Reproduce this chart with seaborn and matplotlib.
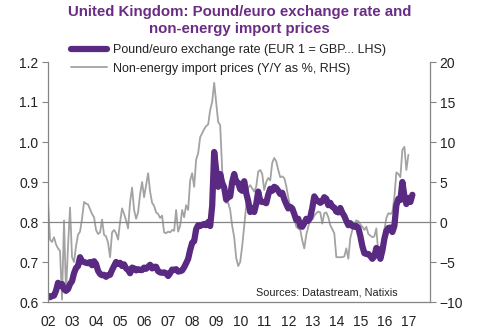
import numpy as np
import pandas as pd
import matplotlib
matplotlib.use("Agg")
import matplotlib.pyplot as plt
import seaborn as sns

# Pound/euro exchange rate, monthly, Jan 2002 - Mar 2017 (EUR 1 = GBP ...)
gbp_2002 = [0.615, 0.612, 0.615, 0.616, 0.628, 0.648, 0.640, 0.645, 0.632, 0.628, 0.632, 0.645]
gbp_2003 = [0.652, 0.672, 0.685, 0.690, 0.712, 0.702, 0.700, 0.698, 0.697, 0.700, 0.692, 0.702]
gbp_2004 = [0.695, 0.678, 0.670, 0.667, 0.668, 0.663, 0.667, 0.668, 0.680, 0.690, 0.700, 0.695]
gbp_2005 = [0.698, 0.690, 0.694, 0.684, 0.680, 0.672, 0.686, 0.684, 0.679, 0.682, 0.680, 0.680]
gbp_2006 = [0.686, 0.683, 0.688, 0.693, 0.684, 0.688, 0.688, 0.677, 0.674, 0.673, 0.674, 0.672]
gbp_2007 = [0.665, 0.672, 0.681, 0.680, 0.682, 0.676, 0.677, 0.679, 0.687, 0.697, 0.708, 0.730]
gbp_2008 = [0.748, 0.752, 0.782, 0.792, 0.790, 0.793, 0.795, 0.792, 0.800, 0.790, 0.840, 0.975]
gbp_2009 = [0.930, 0.888, 0.920, 0.898, 0.886, 0.856, 0.862, 0.864, 0.900, 0.920, 0.900, 0.898]
gbp_2010 = [0.882, 0.878, 0.902, 0.872, 0.852, 0.825, 0.835, 0.825, 0.845, 0.876, 0.852, 0.850]
gbp_2011 = [0.850, 0.847, 0.868, 0.883, 0.878, 0.888, 0.885, 0.878, 0.870, 0.873, 0.857, 0.845]
gbp_2012 = [0.834, 0.838, 0.834, 0.820, 0.805, 0.808, 0.790, 0.788, 0.797, 0.808, 0.803, 0.812]
gbp_2013 = [0.835, 0.864, 0.856, 0.852, 0.848, 0.852, 0.862, 0.858, 0.842, 0.848, 0.838, 0.836]
gbp_2014 = [0.826, 0.824, 0.835, 0.823, 0.815, 0.803, 0.792, 0.797, 0.790, 0.788, 0.790, 0.785]
gbp_2015 = [0.765, 0.740, 0.722, 0.720, 0.720, 0.715, 0.708, 0.714, 0.735, 0.732, 0.708, 0.728]
gbp_2016 = [0.758, 0.778, 0.785, 0.786, 0.775, 0.790, 0.842, 0.858, 0.855, 0.900, 0.866, 0.845]
gbp_2017 = [0.860, 0.850, 0.868]

# Non-energy import prices, Y/Y %, monthly, Jan 2002 - Jan 2017
imp_2002 = [2.8, -2.2, -2.5, -1.9, -2.8, -3.3, -3.6, -9.7, 0.2, -8.9, -3.0, 1.8]
imp_2003 = [-4.4, -5.0, -3.0, -1.6, -1.2, 0.4, 2.5, 2.3, 2.2, 1.6, 1.0, 0.6]
imp_2004 = [-1.0, -1.5, -1.3, 0.3, -1.6, -1.8, -2.6, -4.4, -1.3, -1.0, -1.4, -2.2]
imp_2005 = [0.0, 1.7, 1.0, 0.2, -0.8, 2.5, 4.3, 1.5, 0.4, 1.2, 3.5, 5.0]
imp_2006 = [3.1, 4.6, 6.1, 3.8, 2.4, 2.0, 1.2, 1.0, 0.5, 0.8, -1.3, -1.4]
imp_2007 = [-1.2, -1.3, -1.0, -1.1, 1.5, -1.2, -0.5, 1.5, 0.6, 2.1, 1.5, 5.2]
imp_2008 = [6.1, 4.4, 7.8, 8.6, 10.6, 11.1, 11.6, 12.0, 12.2, 14.0, 15.0, 17.4]
imp_2009 = [15.0, 12.5, 12.1, 6.5, 3.0, 2.4, 2.4, 1.5, -0.5, -1.9, -4.5, -5.5]
imp_2010 = [-5.0, -3.0, -0.5, 2.0, 4.3, 4.6, 4.2, 3.8, 4.4, 6.3, 6.5, 6.0]
imp_2011 = [4.0, 5.0, 5.5, 5.2, 7.4, 8.0, 7.6, 6.5, 5.6, 5.7, 5.5, 4.5]
imp_2012 = [3.1, 1.9, 1.2, 0.4, -0.6, -0.8, -1.0, -2.3, -3.3, -1.6, -0.6, 0.5]
imp_2013 = [0.3, 0.8, 1.1, 1.3, 1.2, -0.2, 1.1, 1.2, 0.6, -0.4, -0.9, -1.4]
imp_2014 = [-4.4, -4.4, -4.4, -4.4, -4.3, -3.3, -4.6, -2.0, -1.0, -0.3, 0.2, 0.1]
imp_2015 = [-0.3, -0.6, -1.0, -0.6, -1.5, -1.7, -1.9, -1.8, -0.8, -3.9, -4.4, -3.7]
imp_2016 = [-1.0, 0.5, 1.1, 1.0, 1.2, 3.1, 6.2, 6.0, 5.6, 9.0, 9.4, 6.5]
imp_2017 = [8.4]

year_labels = ["02", "03", "04", "05", "06", "07", "08", "09",
               "10", "11", "12", "13", "14", "15", "16", "17"]

gbp = (gbp_2002 + gbp_2003 + gbp_2004 + gbp_2005 + gbp_2006 + gbp_2007 + gbp_2008
       + gbp_2009 + gbp_2010 + gbp_2011 + gbp_2012 + gbp_2013 + gbp_2014 + gbp_2015
       + gbp_2016 + gbp_2017)
imp = (imp_2002 + imp_2003 + imp_2004 + imp_2005 + imp_2006 + imp_2007 + imp_2008
       + imp_2009 + imp_2010 + imp_2011 + imp_2012 + imp_2013 + imp_2014 + imp_2015
       + imp_2016 + imp_2017)

df_gbp = pd.DataFrame({"t": 2002 + np.arange(len(gbp)) / 12.0, "v": gbp})
df_imp = pd.DataFrame({"t": 2002 + np.arange(len(imp)) / 12.0, "v": imp})

sns.set_theme(style="white")
plt.rcParams["font.family"] = ["Liberation Sans", "DejaVu Sans"]

PURPLE = "#5a2a82"
GREY = "#a3a3a3"
AXIS = "#858585"

fig = plt.figure(figsize=(4.79, 3.32), dpi=100)
ax = fig.add_axes([48 / 479, 30 / 332, 382 / 479, 240 / 332])
ax2 = ax.twinx()

sns.lineplot(data=df_gbp, x="t", y="v", ax=ax, color=PURPLE, linewidth=4.5,
             label="Pound/euro exchange rate (EUR 1 = GBP... LHS)", legend=False)
sns.lineplot(data=df_imp, x="t", y="v", ax=ax2, color=GREY, linewidth=1.3,
             label="Non-energy import prices (Y/Y as %, RHS)", legend=False)

ax.set_zorder(ax2.get_zorder() + 1)
ax.patch.set_visible(False)

ax.axhline(0.8, color=AXIS, linewidth=0.9, zorder=0)

ax.set_xlim(2002, 2017.9)
ax.set_ylim(0.6, 1.2)
ax2.set_ylim(-10, 20)
ax.set_xticks(np.arange(2002, 2018))
ax.set_xticklabels(year_labels)
ax.set_yticks([0.6, 0.7, 0.8, 0.9, 1.0, 1.1, 1.2])
ax.set_yticklabels(["0.6", "0.7", "0.8", "0.9", "1.0", "1.1", "1.2"])
ax2.set_yticks([-10, -5, 0, 5, 10, 15, 20])
ax.set_xlabel("")
ax.set_ylabel("")
ax2.set_ylabel("")

for a in (ax, ax2):
    a.spines["top"].set_visible(False)
    for s in ("left", "right", "bottom"):
        a.spines[s].set_color(AXIS)
        a.spines[s].set_linewidth(0.9)
    a.grid(False)
ax.spines["right"].set_visible(False)
ax2.spines["left"].set_visible(False)
ax2.spines["bottom"].set_visible(False)

ax.tick_params(axis="both", which="both", direction="out", length=4, width=0.8,
               color=AXIS, labelsize=10, labelcolor="#222222", pad=3)
ax.tick_params(axis="x", pad=5)
ax2.tick_params(axis="y", direction="out", length=4, width=0.8, color=AXIS,
                labelsize=10, labelcolor="#222222", pad=3)

fig.suptitle("United Kingdom: Pound/euro exchange rate and\nnon-energy import prices",
             x=0.5, y=0.985, fontsize=10.8, fontweight="bold", color="#6a2d83",
             linespacing=1.3, va="top")

handles = ax.get_lines()[:1] + ax2.get_lines()[:1]
labels = ["Pound/euro exchange rate (EUR 1 = GBP... LHS)",
          "Non-energy import prices (Y/Y as %, RHS)"]
leg = fig.legend(handles, labels, loc="upper left", bbox_to_anchor=(0.135, 0.885),
                 frameon=False, fontsize=9, handlelength=2.9, handletextpad=0.5,
                 labelspacing=0.5, borderpad=0.0)
for t in leg.get_texts():
    t.set_color("#222222")

ax.text(0.914, 0.02, "Sources: Datastream, Natixis", transform=ax.transAxes,
        ha="right", va="bottom", fontsize=7.8, color="#222222")

fig.savefig("out.png", dpi=100)
